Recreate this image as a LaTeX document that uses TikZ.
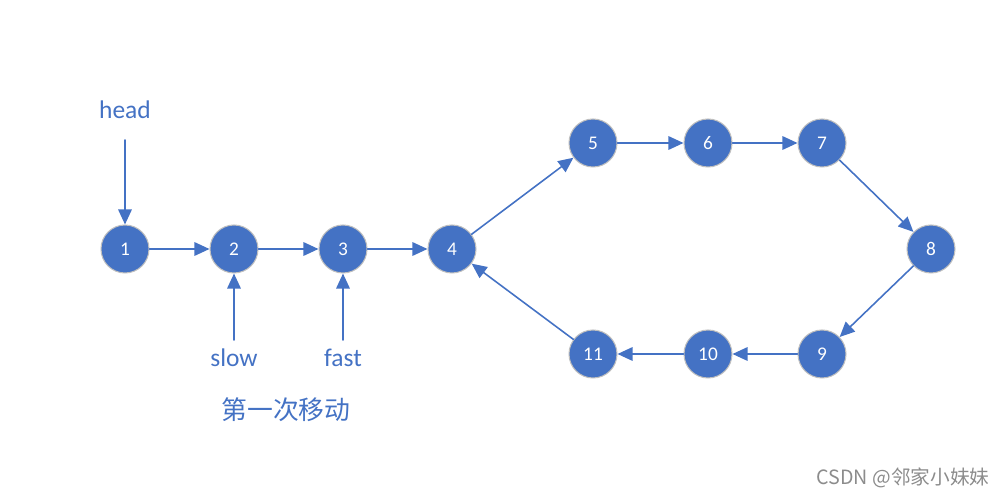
\documentclass[tikz,border=0pt]{standalone}
\usepackage{fontspec}
\setmainfont{Carlito}
\newfontfamily\cjk{Noto Sans CJK SC}
\usetikzlibrary{arrows.meta}
\definecolor{nodeblue}{HTML}{4472C4}
\tikzset{
  listnode/.style={circle,fill=nodeblue,draw=black!25,line width=0.6pt,minimum size=0.96cm,inner sep=0pt,text=white,font=\fontsize{11}{13}\selectfont},
  link/.style={draw=nodeblue,line width=0.9pt,-{Triangle[length=0.3cm,width=0.27cm]}},
  ptrlabel/.style={text=nodeblue,font=\fontsize{14.5}{17}\selectfont,inner sep=0pt}
}
\begin{document}
\begin{tikzpicture}[x=0.02cm,y=-0.02cm,line cap=round,line join=round]
  \useasboundingbox (0,0) rectangle (1008,496);
  % list nodes
  \node[listnode] (n1) at (125,249) {1};
  \node[listnode] (n2) at (234,249) {2};
  \node[listnode] (n3) at (343,249) {3};
  \node[listnode] (n4) at (452,249) {4};
  \node[listnode] (n5) at (593,143) {5};
  \node[listnode] (n6) at (708,143) {6};
  \node[listnode] (n7) at (822,143) {7};
  \node[listnode] (n8) at (931,249) {8};
  \node[listnode] (n9) at (822,354) {9};
  \node[listnode] (n10) at (708,354) {10};
  \node[listnode] (n11) at (593,354) {11};
  % links
  \foreach \a/\b in {n1/n2,n2/n3,n3/n4,n4/n5,n5/n6,n6/n7,n7/n8,n8/n9,n9/n10,n10/n11,n11/n4}
    \draw[link] (\a) -- (\b);
  % pointers
  \node[ptrlabel] (head) at (125,110) {head};
  \node[ptrlabel] (slow) at (234,358) {slow};
  \node[ptrlabel] (fast) at (343,358) {fast};
  \coordinate (headtail) at (125,140);
  \coordinate (slowtail) at (234,340);
  \coordinate (fasttail) at (343,340);
  \draw[link] (headtail) -- (n1);
  \draw[link] (slowtail) -- (n2);
  \draw[link] (fasttail) -- (n3);
  \node[text=nodeblue,font=\cjk\fontsize{14.7}{17}\selectfont] (step) at (286,410) {第一次移动};
  \node[text=black!45,font=\cjk\fontsize{11.2}{13}\selectfont] (mark) at (903,478) {CSDN @邻家小妹妹};
\end{tikzpicture}
\end{document}
